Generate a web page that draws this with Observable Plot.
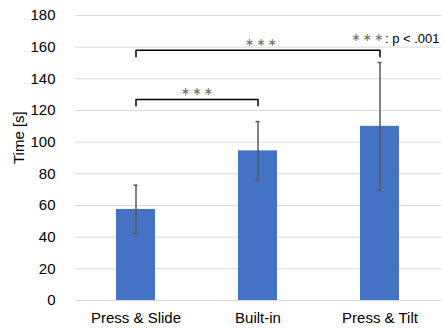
<!DOCTYPE html>
<html>
<head>
<meta charset="utf-8">
<script src="https://cdn.jsdelivr.net/npm/d3@7"></script>
<script src="https://cdn.jsdelivr.net/npm/@observablehq/plot@0.6"></script>
<style>
  body { margin: 0; background: #fff; }
  svg { font-family: "Liberation Sans", Arial, sans-serif; }
</style>
</head>
<body>
<div id="chart"></div>
<script>
const categories = ["Press & Slide", "Built-in", "Press & Tilt"];
const means = [57.5, 94.5, 110];
const sds = [15.3, 18.5, 40.3];
const yTicks = [0, 20, 40, 60, 80, 100, 120, 140, 160, 180];
const brackets = [
  {from: "Press & Slide", to: "Built-in", level: 127, label: "∗\u2009∗\u2009∗"},
  {from: "Press & Slide", to: "Press & Tilt", level: 158, label: "∗\u2009∗\u2009∗"}
];
const legendStars = "∗\u2009∗\u2009∗";
const legendLabel = ": p < .001";

const W = 444, H = 330, mL = 75, mR = 3, mT = 15, mB = 30;
const step = (W - mL - mR) / categories.length;

const data = categories.map((c, i) => ({cat: c, mean: means[i], lo: means[i] - sds[i], hi: means[i] + sds[i]}));
const bracketPts = brackets.flatMap((b, k) => [
  {k, x: b.from, y: b.level - 4},
  {k, x: b.from, y: b.level},
  {k, x: b.to, y: b.level},
  {k, x: b.to, y: b.level - 4}
]);

const chart = Plot.plot({
  width: W, height: H,
  marginLeft: mL, marginRight: mR, marginTop: mT, marginBottom: mB,
  style: {fontSize: "15px", fontFamily: "Liberation Sans, Arial, sans-serif", color: "#000"},
  x: {domain: categories, paddingInner: 0.68, paddingOuter: 0.34, align: 0.5, label: null, tickSize: 0, tickPadding: 12},
  y: {domain: [0, 180], ticks: yTicks, label: null, tickSize: 0, tickPadding: 20},
  marks: [
    Plot.gridY(yTicks, {stroke: "#d9d9d9", strokeOpacity: 1, strokeWidth: 1}),
    Plot.barY(data, {x: "cat", y: "mean", fill: "#4472C4"}),
    Plot.ruleX(data, {x: "cat", y1: "lo", y2: "hi", stroke: "#595959", strokeWidth: 1.5}),
    Plot.tickY(data, {x: "cat", y: "lo", stroke: "#595959", strokeWidth: 1.5, insetLeft: 17.5, insetRight: 17.5}),
    Plot.tickY(data, {x: "cat", y: "hi", stroke: "#595959", strokeWidth: 1.5, insetLeft: 17.5, insetRight: 17.5}),
    Plot.line(bracketPts, {x: "x", y: "y", z: "k", stroke: "#000", strokeWidth: 1.5, curve: "linear"}),
    Plot.text([brackets[0]], {x: "to", y: "level", text: "label", dx: -step / 2, dy: -8, fill: "#666", fontSize: 11, fontFamily: "DejaVu Sans"}),
    Plot.text([brackets[1]], {x: () => "Built-in", y: "level", text: "label", dx: 3, dy: -8, fill: "#666", fontSize: 11, fontFamily: "DejaVu Sans"}),
    Plot.text([legendLabel], {frameAnchor: "top-right", text: d => d, dy: 18, dx: -2, textAnchor: "end", fill: "#000", fontSize: 13}),
    Plot.text([legendStars], {frameAnchor: "top-right", text: d => d, dy: 18, dx: -58, textAnchor: "end", fill: "#666", fontSize: 11, fontFamily: "DejaVu Sans"}),
    Plot.axisY({ticks: yTicks, tickSize: 0, tickPadding: 20, label: null}),
    Plot.text(["Time [s]"], {frameAnchor: "left", text: d => d, rotate: -90, dx: -56, dy: 6, fill: "#000", fontSize: 15})
  ]
});
document.getElementById("chart").append(chart);
</script>
</body>
</html>
